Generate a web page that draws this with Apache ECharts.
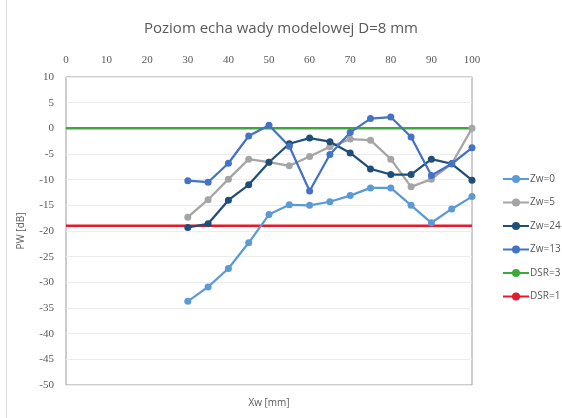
<!DOCTYPE html>
<html>
<head>
<meta charset="utf-8">
<script src="https://cdn.jsdelivr.net/npm/echarts@6/dist/echarts.min.js"></script>
<style>
  html, body { margin: 0; padding: 0; background: #fff; }
  #chart { width: 562px; height: 418px; }
</style>
</head>
<body>
<div id="chart"></div>
<script>
// pozycje Xw [mm]
var xw = [30, 35, 40, 45, 50, 55, 60, 65, 70, 75, 80, 85, 90, 95, 100];

// poziom echa PW [dB] dla kolejnych Zw
var zw0 = [-33.7, -30.9, -27.3, -22.3, -16.8, -14.9, -15.0, -14.3, -13.1, -11.6, -11.6, -15.0, -18.4, -15.7, -13.3];
var zw5 = [-17.3, -13.9, -9.9, -6.0, -6.6, -7.3, -5.5, -3.6, -2.1, -2.3, -6.0, -11.4, -9.9, -6.9, 0.0];
var zw24 = [-19.3, -18.6, -14.0, -11.0, -6.6, -3.0, -1.9, -2.6, -4.8, -7.9, -9.0, -9.0, -6.0, -6.9, -10.1];
var zw13 = [-10.2, -10.5, -6.8, -1.5, 0.6, -3.5, -12.2, -5.1, -0.8, 1.9, 2.2, -1.7, -9.2, -6.9, -3.8];

// progi DSR
var dsr3 = 0;
var dsr1 = -19;

var xTicks = [0, 10, 20, 30, 40, 50, 60, 70, 80, 90, 100];
var yTicks = [10, 5, 0, -5, -10, -15, -20, -25, -30, -35, -40, -45, -50];

function pairs(ys) {
  return xw.map(function (x, i) { return [x, ys[i]]; });
}

var chart = echarts.init(document.getElementById('chart'));

var labelFont = { color: '#595959', fontFamily: 'Liberation Serif', fontSize: 11 };

function pointSeries(name, data, color) {
  return {
    name: name,
    type: 'line',
    data: pairs(data),
    symbol: 'circle',
    symbolSize: 7,
    lineStyle: { color: color, width: 2.25 },
    itemStyle: { color: color },
    z: 3
  };
}

function limitSeries(name, value, color) {
  return {
    name: name,
    type: 'line',
    data: [[xTicks[0], value], [xTicks[xTicks.length - 1], value]],
    symbol: 'none',
    lineStyle: { color: color, width: 2.5 },
    itemStyle: { color: color },
    z: 2
  };
}

chart.setOption({
  animation: false,
  backgroundColor: '#fff',
  title: {
    text: 'Poziom echa wady modelowej D=8 mm',
    left: 'center',
    top: 16,
    textStyle: { color: '#595959', fontFamily: 'Open Sans', fontSize: 15, fontWeight: 'normal' }
  },
  // cienka ramka obszaru wykresu po lewej
  graphic: [{
    type: 'line',
    shape: { x1: 6.5, y1: 0, x2: 6.5, y2: 418 },
    style: { stroke: '#dedede', lineWidth: 1 }
  }],
  legend: {
    orient: 'vertical',
    left: 497,
    top: 169,
    itemWidth: 26,
    itemHeight: 10,
    itemGap: 13.5,
    data: ['Zw=0', 'Zw=5', 'Zw=24', 'Zw=13', 'DSR=3', 'DSR=1'],
    textStyle: { color: '#595959', fontFamily: 'Open Sans', fontSize: 10, padding: [0, 0, 0, -4] }
  },
  grid: {
    left: 66,
    right: 90,
    top: 77,
    bottom: 33,
    show: true,
    borderColor: '#9a9a9a',
    borderWidth: 1
  },
  xAxis: [{
    type: 'value',
    position: 'top',
    min: xTicks[0],
    max: xTicks[xTicks.length - 1],
    interval: 10,
    axisLine: { show: false },
    axisTick: { show: false },
    splitLine: { show: false },
    axisLabel: Object.assign({ margin: 11 }, labelFont)
  }, {
    type: 'value',
    position: 'bottom',
    min: 0,
    max: 100,
    name: 'Xw [mm]',
    nameLocation: 'middle',
    nameGap: 13,
    nameTextStyle: { color: '#595959', fontFamily: 'Open Sans', fontSize: 10 },
    axisLine: { show: false },
    axisTick: { show: false },
    axisLabel: { show: false },
    splitLine: { show: false }
  }],
  yAxis: {
    type: 'value',
    min: yTicks[yTicks.length - 1],
    max: yTicks[0],
    interval: 5,
    name: 'PW [dB]',
    nameLocation: 'middle',
    nameGap: 40,
    nameTextStyle: { color: '#595959', fontFamily: 'Open Sans', fontSize: 10 },
    axisLine: { show: false },
    axisTick: { show: false },
    splitLine: { lineStyle: { color: '#ececec', width: 1 } },
    axisLabel: Object.assign({ margin: 12 }, labelFont)
  },
  series: [
    pointSeries('Zw=0', zw0, '#5B9BD5'),
    pointSeries('Zw=5', zw5, '#A5A5A5'),
    pointSeries('Zw=24', zw24, '#1F4E79'),
    pointSeries('Zw=13', zw13, '#4472C4'),
    limitSeries('DSR=3', dsr3, '#3DA93A'),
    limitSeries('DSR=1', dsr1, '#E8192C')
  ]
});
</script>
</body>
</html>
